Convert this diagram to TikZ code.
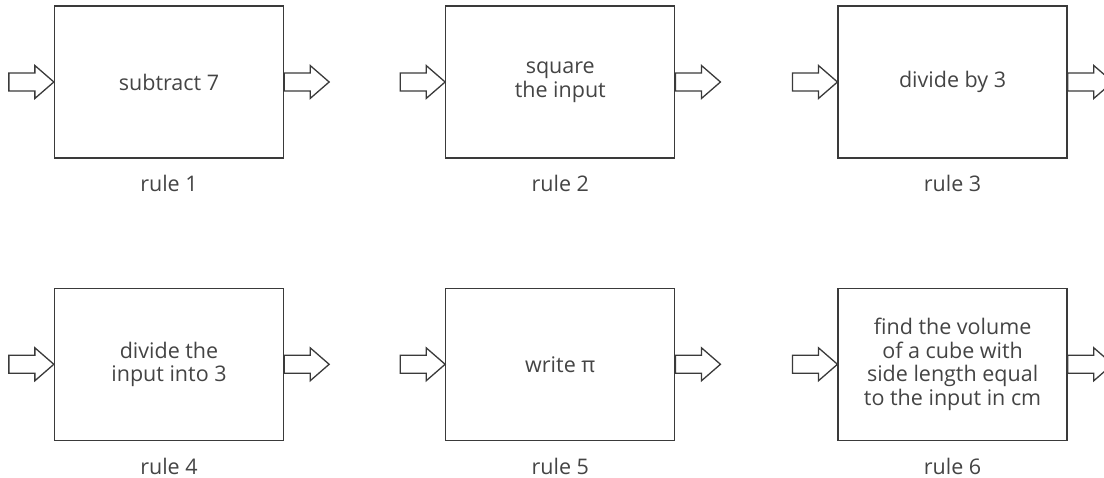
\documentclass[tikz,border=0pt]{standalone}
\usepackage{fontspec}
\setmainfont{Open Sans}
\usepackage{tikz}
\usetikzlibrary{positioning}

\definecolor{rulegray}{HTML}{3A3A3A}
\definecolor{textgray}{HTML}{444444}

\tikzset{
  rulebox/.style={draw=rulegray,line width=1.3pt,minimum width=229pt,minimum height=152pt,inner sep=0pt,align=center,text=textgray,font=\fontsize{21.5}{23.5}\selectfont},
  rulename/.style={inner sep=0pt,text=textgray,font=\fontsize{21.5}{23.5}\selectfont},
  fatarrow/.pic={\draw[rulegray,line width=1.3pt,fill=white,line join=miter] (0,-9) -- (26,-9) -- (26,-16.5) -- (45,0) -- (26,16.5) -- (26,9) -- (0,9) -- cycle;}
}

\begin{document}
\begin{tikzpicture}[x=1pt,y=1pt]
  \useasboundingbox (0,0) rectangle (1104,478);
  \node[rulebox] (box1) at (169,396) {subtract 7};
  \node[rulebox,right=161pt of box1] (box2) {square\\the input};
  \node[rulebox,right=162pt of box2] (box3) {divide by 3};
  \node[rulebox,below=129pt of box1] (box4) {divide the\\input into 3};
  \node[rulebox,below=129pt of box2] (box5) {write π};
  \node[rulebox,below=129pt of box3] (box6) {find the volume\\of a cube with\\side length equal\\to the input in cm};
  \foreach \i in {1,...,6}{
    \pic (in\i) at ([xshift=-45pt]box\i.west) {fatarrow};
    \pic (out\i) at (box\i.east) {fatarrow};
    \node[rulename] (name\i) at ([yshift=-25pt]box\i.south) {rule \i};
  }
\end{tikzpicture}
\end{document}
